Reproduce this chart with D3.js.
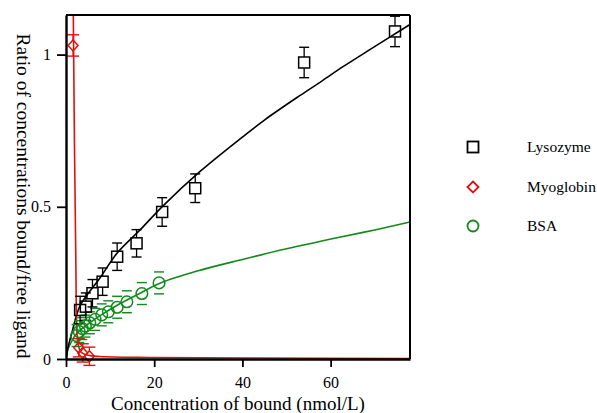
<!DOCTYPE html>
<html>
<head>
<meta charset="utf-8">
<script src="https://cdn.jsdelivr.net/npm/d3@7"></script>
<style>
  body { margin: 0; background: #fff; }
  text { font-family: "Liberation Serif", "Times New Roman", serif; }
</style>
</head>
<body>
<svg id="chart" width="597" height="413"></svg>
<script>
// measured points
const lysX = [3.2, 4.5, 6.0, 8.3, 11.6, 16.0, 21.8, 29.3, 54.0, 74.6];
const lysY = [0.161, 0.172, 0.216, 0.254, 0.336, 0.38, 0.483, 0.561, 0.974, 1.076];
const lysErr = [0.045, 0.045, 0.045, 0.045, 0.045, 0.045, 0.047, 0.047, 0.05, 0.05];

const myoX = [1.6, 2.9, 3.8, 5.3];
const myoY = [1.03, 0.037, 0.02, 0.009];
const myoErr = [0.035, 0.03, 0.03, 0.03];

const bsaX = [2.4, 3.0, 3.7, 4.4, 5.4, 6.6, 8.1, 9.6, 11.6, 13.8, 17.2, 21.1];
const bsaY = [0.077, 0.09, 0.1, 0.108, 0.119, 0.13, 0.145, 0.155, 0.17, 0.188, 0.215, 0.25];
const bsaErr = 0.036;

// fitted curves
const lysFitX = [0, 0.5, 1.3, 3.2, 7.7, 11.6, 16.8, 22, 30.4, 40, 45, 53.1, 58, 62.9, 68, 73.5, 78];
const lysFitY = [0, 0.04, 0.084, 0.175, 0.266, 0.348, 0.424, 0.503, 0.616, 0.729, 0.785, 0.866, 0.913, 0.961, 1.008, 1.058, 1.099];

const myoFitX = [1.66, 1.93, 2.2, 2.5, 2.83, 3.4, 5.0, 7.7, 19, 41.7, 78];
const myoFitY = [1.13, 0.69, 0.36, 0.086, 0.043, 0.023, 0.012, 0.008, 0.005, 0.0035, 0.0017];

const bsaFitX = [0, 0.4, 1, 2, 3, 5, 8, 12, 16, 21.3, 30, 40, 50, 62, 70, 78];
const bsaFitY = [0, 0.03, 0.05, 0.076, 0.092, 0.115, 0.145, 0.18, 0.21, 0.249, 0.29, 0.327, 0.362, 0.4, 0.424, 0.45];

const xTicks = [0, 20, 40, 60];
const yTicks = [0, 0.5, 1];
const legendNames = ["Lysozyme", "Myoglobin", "BSA"];

const black = "#000", red = "#e0100f", green = "#11891b";

const svg = d3.select("#chart");
const mLeft = 66, mRight = 410, mTop = 15, mBottom = 359;
const x = d3.scaleLinear().domain([0, 78]).range([mLeft, mRight]);
const y = d3.scaleLinear().domain([0, 1.13]).range([mBottom, mTop]);

svg.append("clipPath").attr("id", "plot")
  .append("rect").attr("x", mLeft).attr("y", mTop)
  .attr("width", mRight - mLeft).attr("height", mBottom - mTop);

const plot = svg.append("g").attr("clip-path", "url(#plot)");

const curve = d3.line().x(d => x(d[0])).y(d => y(d[1])).curve(d3.curveCatmullRom);

plot.append("path").datum(d3.zip(bsaFitX, bsaFitY)).attr("d", curve)
  .attr("fill", "none").attr("stroke", green).attr("stroke-width", 1.6);
plot.append("path").datum(d3.zip(lysFitX, lysFitY)).attr("d", curve)
  .attr("fill", "none").attr("stroke", black).attr("stroke-width", 1.6);
plot.append("path").datum(d3.zip(myoFitX, myoFitY)).attr("d", curve)
  .attr("fill", "none").attr("stroke", red).attr("stroke-width", 1.6);

// error caps
function caps(xs, ys, err, color, w, stem, gap) {
  xs.forEach((xv, i) => {
    const e = Array.isArray(err) ? err[i] : err;
    const cx = x(xv), y1 = y(ys[i] + e), y2 = y(ys[i] - e);
    [y1, y2].forEach(yy => {
      svg.append("line").attr("x1", cx - w / 2).attr("x2", cx + w / 2)
        .attr("y1", yy).attr("y2", yy).attr("stroke", color).attr("stroke-width", 1.4);
    });
    if (stem) {
      svg.append("line").attr("x1", cx).attr("x2", cx).attr("y1", y1).attr("y2", y(ys[i]) - gap)
        .attr("stroke", color).attr("stroke-width", 1.3);
      svg.append("line").attr("x1", cx).attr("x2", cx).attr("y1", y2).attr("y2", y(ys[i]) + gap)
        .attr("stroke", color).attr("stroke-width", 1.3);
    }
  });
}
caps(bsaX, bsaY, bsaErr, green, 10, false, 0);
caps(lysX, lysY, lysErr, black, 10, true, 5.5);
caps(myoX, myoY, myoErr, red, 12, true, 5);

svg.selectAll(".bsa").data(d3.zip(bsaX, bsaY)).join("circle")
  .attr("cx", d => x(d[0])).attr("cy", d => y(d[1])).attr("r", 5.8)
  .attr("fill", "none").attr("stroke", green).attr("stroke-width", 1.5);

svg.selectAll(".lys").data(d3.zip(lysX, lysY)).join("rect")
  .attr("x", d => x(d[0]) - 5.5).attr("y", d => y(d[1]) - 5.5)
  .attr("width", 11).attr("height", 11)
  .attr("fill", "none").attr("stroke", black).attr("stroke-width", 1.5);

svg.selectAll(".myo").data(d3.zip(myoX, myoY)).join("path")
  .attr("d", "M0,-5.5L5,0L0,5.5L-5,0Z")
  .attr("transform", d => `translate(${x(d[0])},${y(d[1])})`)
  .attr("fill", "none").attr("stroke", red).attr("stroke-width", 1.5);

// frame
svg.append("line").attr("x1", mLeft).attr("x2", mRight).attr("y1", mTop).attr("y2", mTop)
  .attr("stroke", "#000").attr("stroke-width", 2);
svg.append("line").attr("x1", mRight).attr("x2", mRight).attr("y1", mTop).attr("y2", mBottom)
  .attr("stroke", "#000").attr("stroke-width", 2);

const xAxis = svg.append("g").attr("transform", `translate(0,${mBottom})`)
  .call(d3.axisBottom(x).tickValues(xTicks).tickSize(8).tickSizeOuter(0).tickPadding(10));
const yAxis = svg.append("g").attr("transform", `translate(${mLeft},0)`)
  .call(d3.axisLeft(y).tickValues(yTicks).tickFormat(d3.format("")).tickSize(9).tickSizeOuter(0).tickPadding(6));
[xAxis, yAxis].forEach(a => {
  a.select(".domain").attr("stroke-width", 2.4);
  a.selectAll(".tick line").attr("stroke-width", 1.8);
  a.selectAll("text").attr("font-family", "Liberation Serif").attr("font-size", 16).attr("fill", "#000");
});

svg.append("text").attr("x", 238).attr("y", 410).attr("text-anchor", "middle")
  .attr("font-size", 19).text("Concentration of bound (nmol/L)");
svg.append("text").attr("transform", "translate(17,196) rotate(90)").attr("text-anchor", "middle")
  .attr("font-size", 19.5).text("Ratio of concentrations bound/free ligand");

// legend
const lg = svg.append("g");
const ly = [147, 187, 226];
lg.append("rect").attr("x", 467.5).attr("y", ly[0] - 5.5).attr("width", 11).attr("height", 11)
  .attr("fill", "none").attr("stroke", black).attr("stroke-width", 1.8);
lg.append("path").attr("d", "M0,-5.5L5.5,0L0,5.5L-5.5,0Z").attr("transform", `translate(473,${ly[1]})`)
  .attr("fill", "none").attr("stroke", red).attr("stroke-width", 1.8);
lg.append("circle").attr("cx", 473).attr("cy", ly[2]).attr("r", 5.5)
  .attr("fill", "none").attr("stroke", green).attr("stroke-width", 1.8);
legendNames.forEach((n, i) => {
  lg.append("text").attr("x", 527).attr("y", ly[i] + 5).attr("font-size", 15.5).text(n);
});
</script>
</body>
</html>
